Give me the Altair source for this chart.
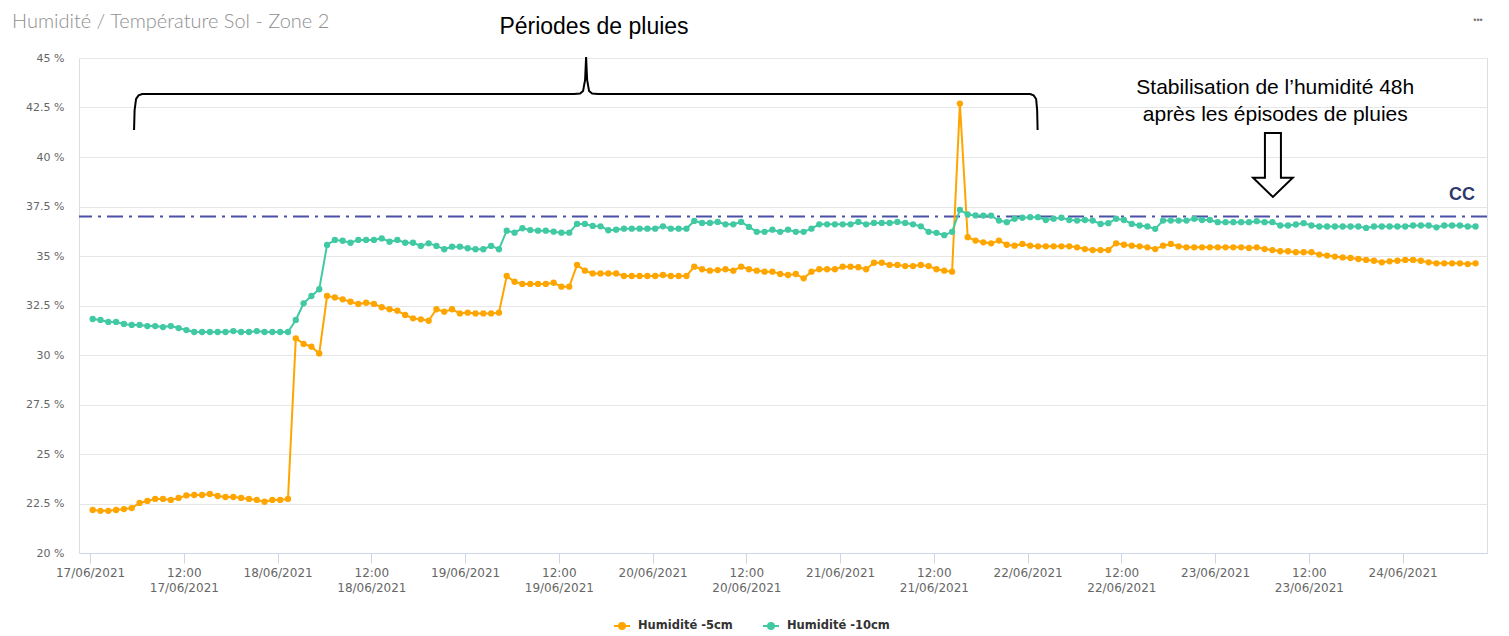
import altair as alt
import pandas as pd

# ---------------- data (hourly readings, 17/06/2021 00:20 UTC onwards) ----------------
hum_5cm = [
    22.17, 22.13, 22.13, 22.17, 22.22, 22.27, 22.53, 22.63, 22.73, 22.73,
    22.68, 22.78, 22.91, 22.93, 22.93, 22.98, 22.88, 22.83, 22.83, 22.78,
    22.73, 22.68, 22.59, 22.68, 22.68, 22.73,
    30.84, 30.56, 30.42, 30.08,
    32.98, 32.91, 32.81, 32.69, 32.58, 32.64, 32.58, 32.41, 32.31, 32.24,
    32.02, 31.85, 31.80, 31.73, 32.31, 32.19, 32.31, 32.10, 32.14, 32.10,
    32.10, 32.10, 32.14,
    33.99, 33.70, 33.59, 33.59, 33.59, 33.59, 33.65, 33.45, 33.45, 34.55,
    34.26, 34.12, 34.12, 34.12, 34.12,
    33.99, 33.99, 33.99, 33.99, 33.99, 34.04, 33.99, 33.99, 33.99, 34.46,
    34.33, 34.26, 34.29, 34.33, 34.26, 34.46, 34.33, 34.26, 34.21, 34.21,
    34.09, 34.04, 34.09, 33.87, 34.21, 34.33, 34.33, 34.33, 34.46, 34.46,
    34.43, 34.33, 34.66, 34.66, 34.55, 34.55, 34.49, 34.49, 34.55, 34.49,
    34.33, 34.26, 34.21,
    42.70,
    35.95, 35.78, 35.69, 35.64, 35.78, 35.57, 35.52, 35.61, 35.52, 35.49,
    35.49, 35.49, 35.49, 35.49, 35.44, 35.35, 35.30, 35.30, 35.30, 35.64,
    35.57, 35.52, 35.49, 35.44, 35.35, 35.52, 35.61, 35.49, 35.44, 35.44,
    35.44, 35.44, 35.44, 35.44, 35.44, 35.44, 35.41, 35.44, 35.35, 35.30,
    35.24, 35.24, 35.19, 35.19, 35.19, 35.07, 35.02, 34.97, 34.93, 34.90,
    34.85, 34.80, 34.76, 34.68, 34.73, 34.76, 34.80, 34.80, 34.76, 34.68,
    34.63, 34.63, 34.63, 34.63, 34.59, 34.63,
]

hum_10cm = [
    31.82, 31.77, 31.67, 31.67, 31.57, 31.52, 31.52, 31.46, 31.46, 31.41,
    31.46, 31.36, 31.26, 31.16, 31.16, 31.16, 31.16, 31.16, 31.21, 31.16,
    31.16, 31.21, 31.16, 31.16, 31.16, 31.16,
    31.77, 32.61, 32.98, 33.32,
    35.56, 35.81, 35.77, 35.67, 35.81, 35.81, 35.81, 35.89, 35.72, 35.81,
    35.67, 35.67, 35.51, 35.64, 35.51, 35.34, 35.47, 35.47, 35.39, 35.34,
    35.34, 35.51, 35.34, 36.28, 36.18, 36.40, 36.31, 36.28, 36.28, 36.23,
    36.18, 36.18, 36.62, 36.62, 36.52,
    36.50, 36.30, 36.33, 36.38, 36.38, 36.38, 36.38, 36.38, 36.50, 36.38,
    36.38, 36.38, 36.77, 36.67, 36.67, 36.72, 36.60, 36.60, 36.72, 36.47,
    36.22, 36.22, 36.33, 36.22, 36.33, 36.22, 36.22, 36.38, 36.60, 36.60,
    36.60, 36.60, 36.60, 36.72, 36.60, 36.67, 36.67, 36.67, 36.72, 36.67,
    36.60, 36.50, 36.22, 36.17, 36.05, 36.22, 37.33, 37.10, 37.05,
    37.04, 37.04, 36.79, 36.71, 36.88, 36.93, 36.96, 36.96, 36.82, 36.88,
    36.93, 36.82, 36.79, 36.82, 36.79, 36.62, 36.66, 36.88, 36.82, 36.62,
    36.54, 36.49, 36.37, 36.79, 36.79, 36.79, 36.79, 36.88, 36.82, 36.82,
    36.71, 36.71, 36.71, 36.71, 36.71, 36.76, 36.71, 36.71, 36.54, 36.54,
    36.59, 36.66, 36.54, 36.49, 36.49, 36.49, 36.49, 36.49, 36.49, 36.42,
    36.49, 36.49, 36.49, 36.49, 36.49, 36.54, 36.54, 36.54, 36.45, 36.54,
    36.54, 36.54, 36.49, 36.49,
]

series_names = ["Humidité -5cm", "Humidité -10cm"]
series_colors = ["#FFA500", "#41C9A3"]

cc_level = [37.0]
cc_label = ["CC"]

chart_title = ["Humidité / Température Sol - Zone 2"]

# brace annotation ("Périodes de pluies"), in hours after 17/06 00:00 and % humidity
brace_hours = [5.63, 5.70, 5.89, 6.21, 6.66, 61.95, 62.72, 63.10, 63.36, 63.49,
               63.62, 63.87, 64.26, 65.02, 120.32, 120.77, 121.09, 121.22, 121.28]
brace_values = [41.36, 42.37, 42.93, 43.11, 43.18, 43.18, 43.21, 43.33, 43.89, 45.05,
                43.89, 43.33, 43.21, 43.18, 43.18, 43.11, 42.93, 42.37, 41.36]

rain_text = ["Périodes de pluies"]
rain_hours = [64.5]
rain_values = [46.57]

stab_text = ["Stabilisation de l\u2019humidité 48h", "après les épisodes de pluies"]
stab_hours = [151.7, 151.7]
stab_values = [43.48, 42.12]

arrow_hours = [151.4]
arrow_values = [39.6]

y_ticks = [20, 22.5, 25, 27.5, 30, 32.5, 35, 37.5, 40, 42.5, 45]

# ---------------- frames ----------------
start = pd.Timestamp("2021-06-17 00:00")
times = pd.date_range("2021-06-17 00:20", periods=len(hum_5cm), freq="60min")
tstr = times.strftime("%Y-%m-%dT%H:%M:%SZ")

df5 = pd.DataFrame({"t": tstr, "v": hum_5cm, "s": series_names[0]})
df10 = pd.DataFrame({"t": tstr, "v": hum_10cm, "s": series_names[1]})

def hours_to_str(hs):
    return [(start + pd.Timedelta(hours=h)).strftime("%Y-%m-%dT%H:%M:%SZ") for h in hs]

brace_df = pd.DataFrame({"t": hours_to_str(brace_hours), "v": brace_values,
                         "i": list(range(len(brace_hours)))})
rain_df = pd.DataFrame({"t": hours_to_str(rain_hours), "v": rain_values, "txt": rain_text})
stab_df = pd.DataFrame({"t": hours_to_str(stab_hours), "v": stab_values, "txt": stab_text})
arrow_df = pd.DataFrame({"t": hours_to_str(arrow_hours), "v": arrow_values})
cc_df = pd.DataFrame({"v": cc_level})
cc_lbl_df = pd.DataFrame({"t": hours_to_str([175.6]), "v": [38.08], "txt": cc_label})

tick_vals = [alt.DateTime(year=2021, month=6, date=17 + k // 2, hours=12 * (k % 2), utc=True)
             for k in range(15)]

x_enc = alt.X(
    "t:T",
    scale=alt.Scale(type="utc",
                    domain=[alt.DateTime(year=2021, month=6, date=16, hours=22, minutes=35, utc=True),
                            alt.DateTime(year=2021, month=6, date=24, hours=10, minutes=48, utc=True)]),
    axis=alt.Axis(
        title=None, values=tick_vals, grid=False,
        labelExpr="utchours(datum.value) == 12 ? ['12:00', utcFormat(datum.value, '%d/%m/%Y')] : utcFormat(datum.value, '%d/%m/%Y')",
        labelFont="DejaVu Sans", labelFontSize=12, labelColor="#666666",
        labelLineHeight=15, labelPadding=4, labelBaseline="top",
        tickSize=10, tickColor="#ccd6eb", domainColor="#ccd6eb", labelFlush=False,
        labelOverlap=False,
    ),
)
y_enc = alt.Y(
    "v:Q",
    scale=alt.Scale(domain=[20, 45], nice=False, zero=False),
    axis=alt.Axis(
        title=None, values=y_ticks, labelExpr="datum.value + ' %'",
        labelFont="DejaVu Sans", labelFontSize=11, labelColor="#666666",
        labelPadding=15, ticks=False, domain=False,
        gridColor="#e6e6e6", gridWidth=1,
    ),
)

legend_symbol = ("M-1,0L1,0"
                 "M0.12,0A0.12,0.12 0 1,1 -0.12,0A0.12,0.12 0 1,1 0.12,0"
                 "M0.25,0A0.25,0.25 0 1,1 -0.25,0A0.25,0.25 0 1,1 0.25,0"
                 "M0.37,0A0.37,0.37 0 1,1 -0.37,0A0.37,0.37 0 1,1 0.37,0")

color_enc = alt.Color(
    "s:N",
    scale=alt.Scale(domain=series_names, range=series_colors),
    legend=alt.Legend(
        title=None, orient="none", legendX=534, legendY=559, direction="horizontal",
        symbolType=legend_symbol, symbolSize=256, symbolStrokeWidth=2,
        labelFont="DejaVu Sans", labelFontSize=11.5, labelFontWeight="bold",
        labelColor="#333333", labelOffset=7, columnPadding=26,
    ),
)

def series_layers(df, color):
    line = alt.Chart(df).mark_line(strokeWidth=2).encode(x=x_enc, y=y_enc, color=color_enc)
    pts = alt.Chart(df).mark_point(filled=True, size=40, opacity=1, color=color).encode(x="t:T", y="v:Q")
    return [line, pts]

cc_rule = alt.Chart(cc_df).mark_rule(color="#4A4FA8", strokeWidth=2, strokeDash=[16, 6, 3, 6]).encode(y="v:Q")
cc_text = alt.Chart(cc_lbl_df).mark_text(font="Liberation Sans", fontSize=18, fontWeight="bold",
                                         color="#2E3A6B").encode(x="t:T", y="v:Q", text="txt:N")

brace = alt.Chart(brace_df).mark_line(color="black", strokeWidth=2).encode(
    x="t:T", y="v:Q", order="i:Q")
rain = alt.Chart(rain_df).mark_text(font="Liberation Sans", fontSize=23, color="black").encode(
    x="t:T", y="v:Q", text="txt:N")
stab = alt.Chart(stab_df).mark_text(font="Liberation Sans", fontSize=21, color="black").encode(
    x="t:T", y="v:Q", text="txt:N")
arrow_shape = "M-0.25,-1L0.25,-1L0.25,0.4L0.62,0.4L0,1L-0.62,0.4L-0.25,0.4Z"
arrow = alt.Chart(arrow_df).mark_point(shape=arrow_shape, size=4096, filled=False, color="black",
                                       strokeWidth=2, opacity=1).encode(x="t:T", y="v:Q")

title_mark = alt.Chart(pd.DataFrame({"txt": chart_title})).mark_text(
    font="Lato", fontSize=20, fontWeight=300, color="#8f8f8f", align="left", baseline="middle").encode(
    x=alt.value(-67), y=alt.value(-36), text="txt:N")

menu = alt.Chart(pd.DataFrame({"m": ["\u2022\u2022\u2022"]})).mark_text(
    fontSize=9, color="#777777").encode(
    x=alt.value(1399), y=alt.value(-38), text="m:N")

layers = [cc_rule] + series_layers(df5, series_colors[0]) + series_layers(df10, series_colors[1]) + \
         [brace, rain, stab, arrow, cc_text, title_mark, menu]

chart = alt.layer(*layers).properties(
    width=1408, height=495,
    autosize=alt.AutoSizeParams(type="none"),
    padding={"left": 71, "top": 50, "right": 14, "bottom": 82},
).configure_view(stroke=None).configure(background="white")

chart.save("out.html", embed_options={"renderer": "svg", "actions": False})
